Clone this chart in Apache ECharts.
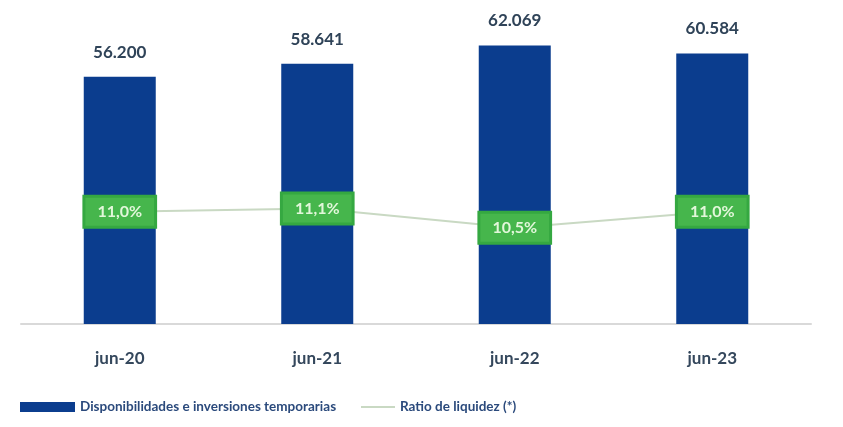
<!DOCTYPE html>
<html>
<head>
<meta charset="utf-8">
<script src="https://cdn.jsdelivr.net/npm/echarts@6/dist/echarts.min.js"></script>
<style>
  html, body { margin: 0; padding: 0; background: #fff; }
  #chart { width: 843px; height: 427px; }
</style>
</head>
<body>
<div id="chart"></div>
<script>
let periodos = ['jun-20', 'jun-21', 'jun-22', 'jun-23'];
let disponibilidades = [56200, 58641, 62069, 60584];
let ratioLiquidez = [11.0, 11.1, 10.5, 11.0];

let chart = echarts.init(document.getElementById('chart'));

//formato 56.200
function miles(v) {
    return String(v).replace(/\B(?=(\d{3})+(?!\d))/g, '.');
}

let option = {
    backgroundColor: '#ffffff',
    textStyle: { fontFamily: 'Lato' },
    animation: false,
    grid: { left: 21, right: 32, top: 3, bottom: 103 },
    legend: [{
        left: 15,
        bottom: 8,
        data: ['Disponibilidades e inversiones temporarias'],
        icon: 'rect',
        itemWidth: 55,
        itemHeight: 10,
        itemGap: 6,
        textStyle: { color: '#2b4a7c', fontSize: 13.5, fontWeight: 'bold' }
    }, {
        left: 356,
        bottom: 8,
        data: ['Ratio de liquidez (*)'],
        icon: 'rect',
        itemWidth: 34,
        itemHeight: 2,
        textStyle: { color: '#2b4a7c', fontSize: 13.5, fontWeight: 'bold' }
    }],
    xAxis: {
        type: 'category',
        data: periodos,
        axisLine: { lineStyle: { color: '#d9d9d9', width: 2 } },
        axisTick: { show: false },
        axisLabel: { color: '#34475c', fontSize: 17, fontWeight: 'bold', margin: 26 }
    },
    yAxis: [{
        type: 'value',
        min: 10000,
        max: 70000,
        show: false
    }, {
        type: 'value',
        min: 7.5,
        max: 17.5,
        show: false
    }],
    series: [{
        name: 'Disponibilidades e inversiones temporarias',
        type: 'bar',
        data: disponibilidades,
        barWidth: 72,
        itemStyle: { color: '#0b3d8e' },
        label: {
            show: true,
            position: 'top',
            distance: 16,
            color: '#2f4358',
            fontSize: 17,
            fontWeight: 'bold',
            formatter: p => miles(p.value)
        }
    }, {
        name: 'Ratio de liquidez (*)',
        type: 'line',
        yAxisIndex: 1,
        data: ratioLiquidez,
        symbol: 'circle',
        symbolSize: 1,
        showSymbol: true,
        itemStyle: { color: '#c9d9c3' },
        lineStyle: { color: '#c9d9c3', width: 2 },
        label: {
            show: true,
            position: 'inside',
            color: '#e2f7da',
            fontSize: 16,
            fontWeight: 'bold',
            backgroundColor: '#46b64c',
            borderColor: '#35a841',
            borderWidth: 3,
            padding: [6, 12],
            formatter: p => p.value.toFixed(1).replace('.', ',') + '%'
        },
        z: 5
    }]
};

chart.setOption(option);
</script>
</body>
</html>
